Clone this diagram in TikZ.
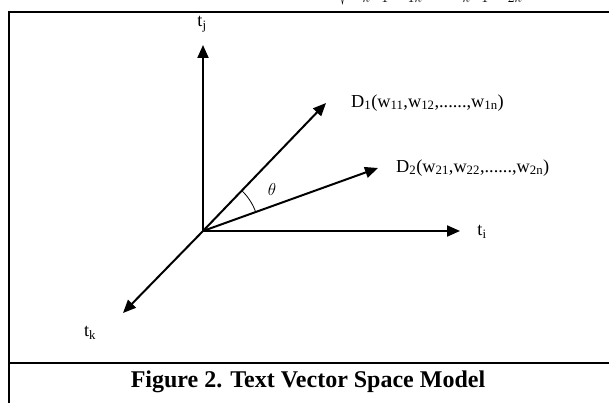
\documentclass[tikz,border=0pt]{standalone}
\usepackage{fontspec}
\setmainfont{Liberation Serif}
\usetikzlibrary{arrows.meta,positioning}

\begin{document}
\begin{tikzpicture}[
    x=1pt, y=1pt,
    every node/.style={font=\fontsize{18.3}{22}\selectfont, inner sep=0pt},
    axis/.style={-{Triangle[length=13pt,width=11pt]}, line width=2pt},
    frame/.style={line width=2.6pt},
    thinframe/.style={line width=1.3pt},
    caption/.style={font=\fontsize{24}{28}\selectfont\bfseries}
]

% Page area
\clip (0,0) rectangle (609,403);
\useasboundingbox (0,0) rectangle (609,403);

% Formula cut off at the top
\node[anchor=base west, font=\fontsize{21}{25}\selectfont] (formula) at (338,405.5)
    {$\displaystyle\sqrt{\sum\nolimits_{k=1}^{n} {w\vphantom{\sum}}_{1k}^{2}\times
      \sum\nolimits_{k=1}^{n} {w\vphantom{\sum}}_{2k}^{2}}$};

% Frame
\draw[frame] (72,391) -- (9,391) -- (9,-10);
\draw[thinframe] (72,391) -- (558,391);
\draw[frame] (558,391) -- (615,391);
\draw[frame] (9,40) -- (615,40);

% Origin and arrow ends
\coordinate (O)    at (203,172);
\coordinate (tjend) at (203,358);
\coordinate (tiend) at (460,172);
\coordinate (tkend) at (123,90);
\coordinate (d1end) at (326,300);
\coordinate (d2end) at (378,235);

% Labels
\node (tj) at (202,379) {t\textsubscript{j}};
\node (ti) at (482,171) {t\textsubscript{i}};
\node (tk) at (90,70)   {t\textsubscript{k}};
\node[anchor=west] (d1) at (351,300)
    {D\textsubscript{1}(w\textsubscript{11},w\textsubscript{12},......,w\textsubscript{1n})};
\node[anchor=west] (d2) at (396,235)
    {D\textsubscript{2}(w\textsubscript{21},w\textsubscript{22},......,w\textsubscript{2n})};
\node (theta) at (272,213) {$\theta$};

% Axes and vectors
\draw[axis] (O) -- (tjend);
\draw[axis] (O) -- (tiend);
\draw[axis] (O) -- (tkend);
\draw[axis] (O) -- (d1end);
\draw[axis] (O) -- (d2end);

% Angle between D1 and D2
\draw[line width=0.8pt] (O) ++(19.8:56) arc[start angle=19.8, end angle=46.1, radius=56];

% Caption
\node[caption] (cap) at (308,21) {Figure 2. Text Vector Space Model};

\end{tikzpicture}
\end{document}
